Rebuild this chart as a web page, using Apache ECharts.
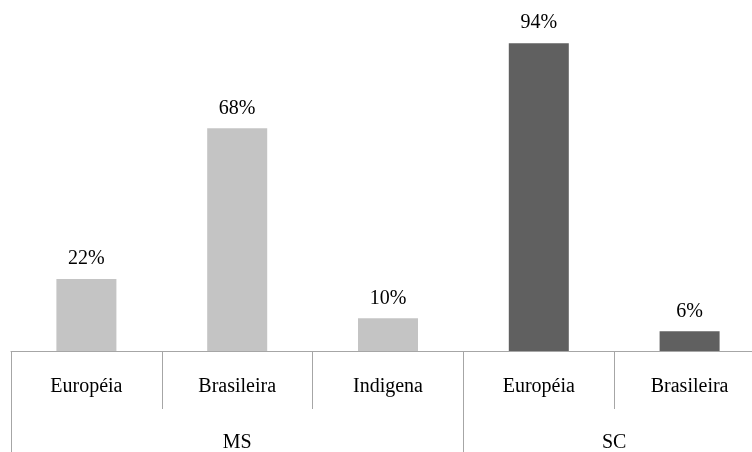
<!DOCTYPE html>
<html>
<head>
<meta charset="utf-8">
<script src="https://cdn.jsdelivr.net/npm/echarts@6/dist/echarts.min.js"></script>
<style>html,body{margin:0;padding:0;background:#fff;overflow:hidden;width:752px;height:452px}#c{width:766px;height:452px}</style>
</head>
<body>
<div id="c"></div>
<script>
const categories = ['Européia', 'Brasileira', 'Indigena', 'Européia', 'Brasileira'];
const values = [22, 68, 10, 94, 6];
const groups = ['MS', 'SC'];
const groupSizes = [3, 2];
const groupColors = ['#c4c4c4', '#606060'];

const itemGroup = [];
groupSizes.forEach((n, g) => { for (let i = 0; i < n; i++) itemGroup.push(g); });
const groupStarts = [];
const groupCenters = [];
let acc = 0;
groupSizes.forEach(n => { groupStarts.push(acc); groupCenters.push(acc + n / 2); acc += n; });

const font = 'Liberation Serif';
const chart = echarts.init(document.getElementById('c'));
chart.setOption({
  animation: false,
  grid: { left: 11, top: 23.5, right: 1, bottom: 101, containLabel: false, outerBoundsMode: 'none' },
  xAxis: [
    {
      type: 'category',
      data: categories,
      axisLine: { lineStyle: { color: '#a6a6a6', width: 1 } },
      axisTick: { show: true, length: 58, lineStyle: { color: '#a6a6a6' } },
      axisLabel: { color: '#000', fontFamily: font, fontSize: 20, margin: 26, interval: 0 }
    },
    {
      type: 'value',
      position: 'bottom',
      min: 0,
      max: acc,
      splitLine: { show: false },
      axisLine: { show: false },
      axisTick: { show: true, length: 105, customValues: groupStarts, lineStyle: { color: '#a6a6a6' } },
      axisLabel: {
        color: '#000', fontFamily: font, fontSize: 20, margin: 82,
        customValues: groupCenters,
        formatter: v => { const i = groupCenters.indexOf(v); return i >= 0 ? groups[i] : ''; }
      }
    }
  ],
  yAxis: { type: 'value', min: 0, max: 100, show: false, splitLine: { show: false } },
  series: [{
    type: 'bar',
    xAxisIndex: 0,
    barWidth: 60,
    data: values.map((v, i) => ({ value: v, itemStyle: { color: groupColors[itemGroup[i]] } })),
    label: {
      show: true, position: 'top', distance: 10,
      formatter: p => p.value + '%',
      color: '#000', fontFamily: font, fontSize: 20
    }
  }]
});
</script>
</body>
</html>
